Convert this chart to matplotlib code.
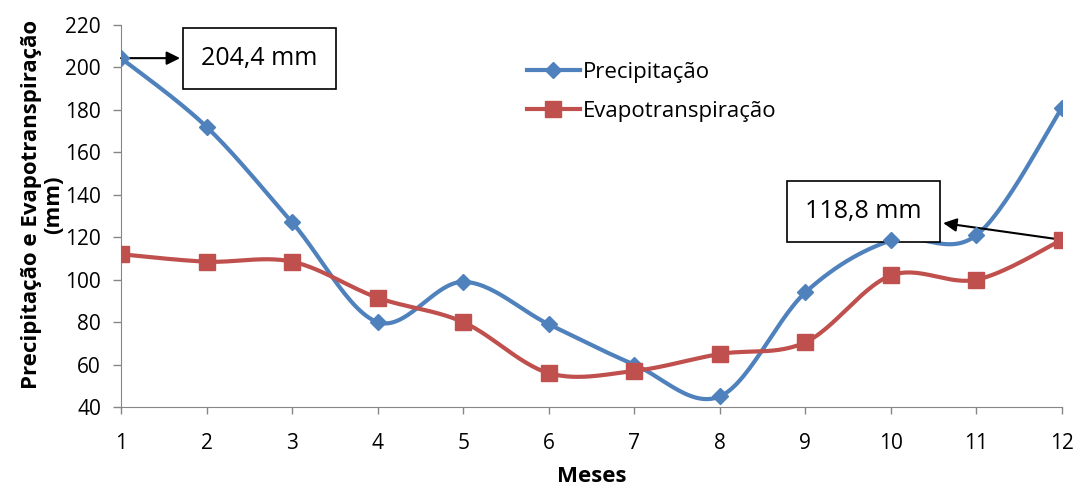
import numpy as np
import matplotlib
matplotlib.use("Agg")
import matplotlib.pyplot as plt

# data
meses = [1, 2, 3, 4, 5, 6, 7, 8, 9, 10, 11, 12]
precipitacao = [204.4, 172, 127, 80, 99, 79, 60, 45, 94, 118.5, 121, 181]
evapo = [112, 108.5, 108.5, 91.5, 80, 56, 57, 65, 70.5, 102, 100, 118.8]

BLUE = "#4F81BD"
RED = "#C0504D"
GRAY = "#868686"


def smooth(x, y, n=30):
    # catmull-rom like the smoothed lines of a spreadsheet chart
    p = np.column_stack([x, y]).astype(float)
    p = np.vstack([p[0], p, p[-1]])
    out = []
    for i in range(1, len(p) - 2):
        p0, p1, p2, p3 = p[i - 1], p[i], p[i + 1], p[i + 2]
        c1 = p1 + (p2 - p0) / 6
        c2 = p2 - (p3 - p1) / 6
        t = np.linspace(0, 1, n)[:, None]
        seg = (1 - t) ** 3 * p1 + 3 * (1 - t) ** 2 * t * c1 + 3 * (1 - t) * t ** 2 * c2 + t ** 3 * p2
        out.append(seg if i == 1 else seg[1:])
    out = np.vstack(out)
    return out[:, 0], out[:, 1]


plt.rcParams['font.family'] = ['Open Sans', 'DejaVu Sans']

fig = plt.figure(figsize=(10.75, 4.91), dpi=100)
ax = fig.add_axes([0.1126, 0.171, 0.8753, 0.778])

sx, sy = smooth(meses, precipitacao)
ax.plot(sx, sy, color=BLUE, lw=3, solid_capstyle='round', zorder=3)
ax.plot(meses, precipitacao, 'D', color=BLUE, ms=8.5, zorder=4)
sx, sy = smooth(meses, evapo)
ax.plot(sx, sy, color=RED, lw=3, solid_capstyle='round', zorder=3)
ax.plot(meses, evapo, 's', color=RED, ms=12, zorder=4)

# legend handles
ax.plot([], [], color=BLUE, lw=3, marker='D', ms=8.5, label='Precipitação')
ax.plot([], [], color=RED, lw=3, marker='s', ms=12, label='Evapotranspiração')
ax.legend(loc='upper left', bbox_to_anchor=(0.431, 0.904), frameon=False,
          fontsize=16, handlelength=2.4, handletextpad=0.15, labelspacing=0.83,
          borderaxespad=0, borderpad=0)

ax.set_xlim(1, 12)
ax.set_ylim(40, 220)
ax.set_xticks(meses)
ax.set_yticks(range(40, 221, 20))
ax.tick_params(labelsize=15, color=GRAY, width=1)
ax.tick_params(axis='x', length=5, pad=14)
ax.tick_params(axis='y', length=6, pad=8.5)
for s in ['top', 'right']:
    ax.spines[s].set_visible(False)
for s in ['left', 'bottom']:
    ax.spines[s].set_color(GRAY)

ax.set_xlabel('Meses', fontsize=16, fontweight='bold', labelpad=8)
ax.set_ylabel('Precipitação e Evapotranspiração\n(mm)', fontsize=16,
              fontweight='bold', linespacing=1.05)
ax.yaxis.set_label_coords(-0.061, 0.53)

box = dict(boxstyle='square,pad=0.72', fc='white', ec='black', lw=1.2)
ax.annotate('204,4 mm', xy=(meses[0], precipitacao[0]), xytext=(2.62, precipitacao[0]),
            fontsize=18, ha='center', va='center', bbox=box,
            arrowprops=dict(arrowstyle='<|-', color='black', lw=1.5, mutation_scale=20,
                            shrinkB=0))
ax.annotate('118,8 mm', xy=(meses[-1], evapo[-1]), xytext=(9.68, 132),
            fontsize=18, ha='center', va='center', bbox=box,
            arrowprops=dict(arrowstyle='<|-', color='black', lw=1.5, mutation_scale=20,
                            shrinkB=0))

fig.savefig('out.png', dpi=100)
